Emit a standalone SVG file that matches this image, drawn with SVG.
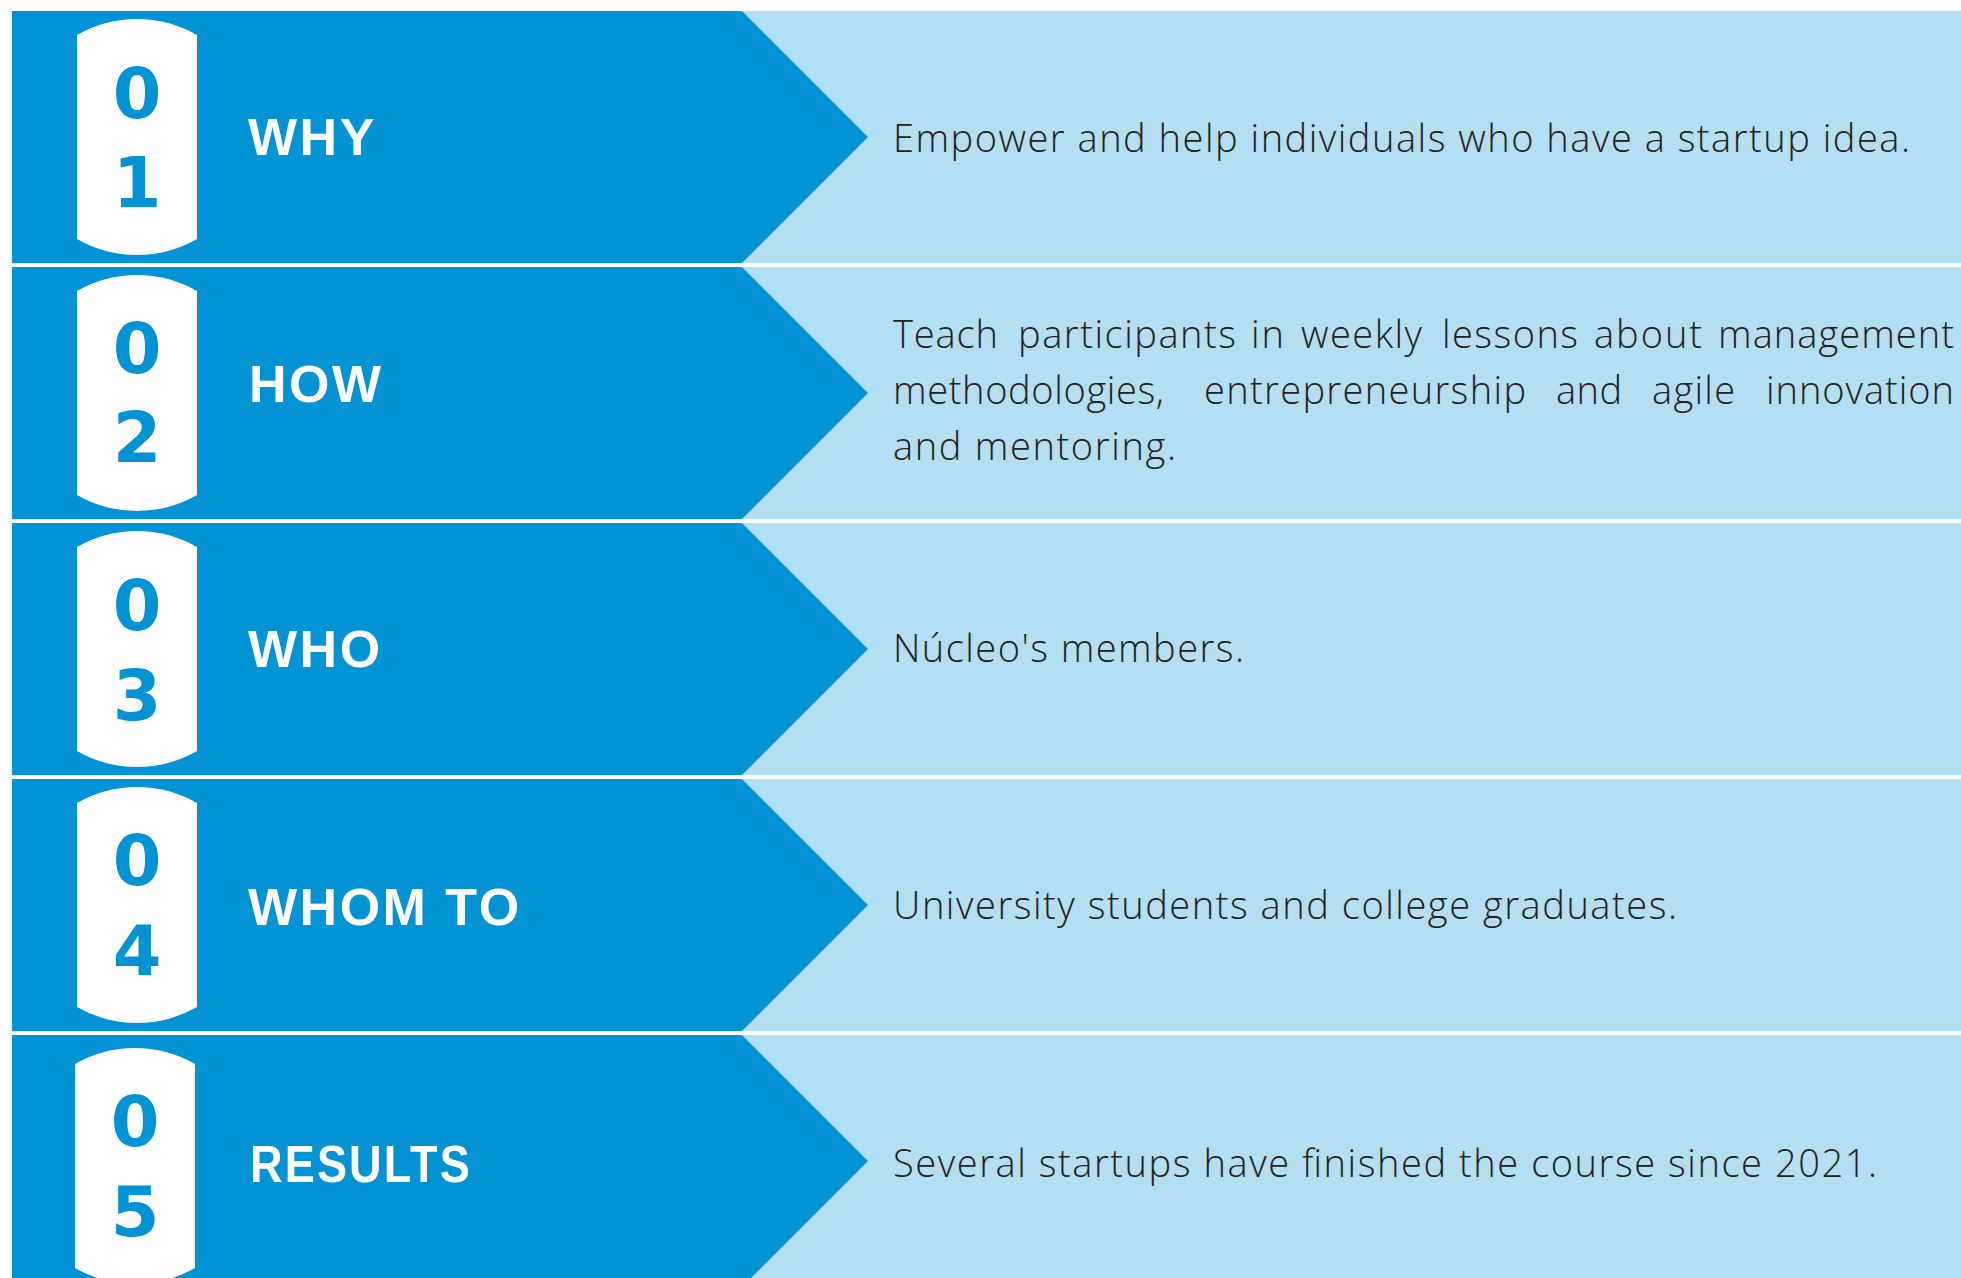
<svg xmlns="http://www.w3.org/2000/svg" xmlns:xlink="http://www.w3.org/1999/xlink" width="1961" height="1278" viewBox="0 0 1961 1278">
<style>
.light{fill:#B4DEF2}
.dark{fill:#0293D4}
.badge{fill:#FFFFFF}
.num{font-family:"DejaVu Sans",sans-serif;font-weight:bold;font-size:70px;fill:#0293D4;text-anchor:middle}
.lbl{font-family:"Liberation Sans",Arial,sans-serif;font-weight:bold;font-size:52px;fill:#FFFFFF;letter-spacing:2.5px}
.desc{font-family:"Open Sans","Noto Sans",sans-serif;font-weight:300;font-size:38px;fill:#222222}
</style>
<defs>
<rect id="lightbg" x="742" y="0" width="1219" height="252"/>
<polygon id="arrow" points="12,0 742,0 868,126 742,252 12,252"/>
<path id="badgeShape" d="M77,24 A120.5,120.5 0 0 1 197,24 L197,228 A120.5,120.5 0 0 1 77,228 Z"/>
</defs>
<rect x="0" y="0" width="1961" height="1278" fill="#FFFFFF"/>
<g id="row1" transform="translate(0,11)">
<use xlink:href="#lightbg" class="light"/>
<use xlink:href="#arrow" class="dark"/>
<use xlink:href="#badgeShape" class="badge"/>
<text class="num" x="137" y="107">0</text>
<text class="num" x="137" y="196">1</text>
<text class="lbl" x="248" y="144">WHY</text>
<text class="desc" x="893" y="141" textLength="1017" lengthAdjust="spacing">Empower and help individuals who have a startup idea.</text>
</g>
<g id="row2" transform="translate(0,267)">
<use xlink:href="#lightbg" class="light"/>
<use xlink:href="#arrow" class="dark"/>
<use xlink:href="#badgeShape" class="badge"/>
<text class="num" x="137" y="106">0</text>
<text class="num" x="137" y="195">2</text>
<text class="lbl" x="249" y="135">HOW</text>
<text class="desc" y="81"><tspan x="893" textLength="105" lengthAdjust="spacing">Teach</tspan> <tspan x="1018" textLength="218" lengthAdjust="spacing">participants</tspan> <tspan x="1251" textLength="33" lengthAdjust="spacing">in</tspan> <tspan x="1301" textLength="121" lengthAdjust="spacing">weekly</tspan> <tspan x="1442" textLength="136" lengthAdjust="spacing">lessons</tspan> <tspan x="1594" textLength="108" lengthAdjust="spacing">about</tspan> <tspan x="1718" textLength="236" lengthAdjust="spacing">management</tspan></text>
<text class="desc" y="137"><tspan x="893" textLength="271" lengthAdjust="spacing">methodologies,</tspan> <tspan x="1204" textLength="322" lengthAdjust="spacing">entrepreneurship</tspan> <tspan x="1556" textLength="66" lengthAdjust="spacing">and</tspan> <tspan x="1652" textLength="83" lengthAdjust="spacing">agile</tspan> <tspan x="1766" textLength="188" lengthAdjust="spacing">innovation</tspan></text>
<text class="desc" x="893" y="193" textLength="283" lengthAdjust="spacing">and mentoring.</text>
</g>
<g id="row3" transform="translate(0,523)">
<use xlink:href="#lightbg" class="light"/>
<use xlink:href="#arrow" class="dark"/>
<use xlink:href="#badgeShape" class="badge"/>
<text class="num" x="137" y="107">0</text>
<text class="num" x="137" y="197">3</text>
<text class="lbl" x="248" y="144">WHO</text>
<text class="desc" x="893" y="139" textLength="351" lengthAdjust="spacing">Núcleo's members.</text>
</g>
<g id="row4" transform="translate(0,779)">
<use xlink:href="#lightbg" class="light"/>
<use xlink:href="#arrow" class="dark"/>
<use xlink:href="#badgeShape" class="badge"/>
<text class="num" x="137" y="106">0</text>
<text class="num" x="137" y="196">4</text>
<text class="lbl" x="248" y="146">WHOM TO</text>
<text class="desc" x="893" y="140" textLength="784" lengthAdjust="spacing">University students and college graduates.</text>
</g>
<g id="row5" transform="translate(0,1035)">
<use xlink:href="#lightbg" class="light"/>
<use xlink:href="#arrow" class="dark"/>
<use xlink:href="#badgeShape" class="badge" transform="translate(-2,5)"/>
<text class="num" x="135" y="111">0</text>
<text class="num" x="135" y="201">5</text>
<text class="lbl" x="250" y="147" textLength="222" lengthAdjust="spacingAndGlyphs">RESULTS</text>
<text class="desc" x="893" y="142" textLength="984" lengthAdjust="spacing">Several startups have finished the course since 2021.</text>
</g>
<g id="connectors"></g>
</svg>
